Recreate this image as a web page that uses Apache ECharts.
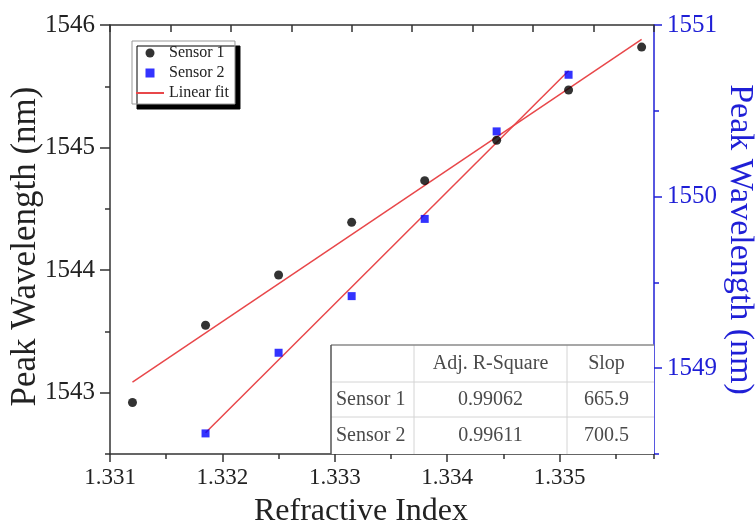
<!DOCTYPE html>
<html><head><meta charset="utf-8">
<script src="https://cdn.jsdelivr.net/npm/echarts@6/dist/echarts.min.js"></script>
<style>html,body{margin:0;padding:0;background:#fff}#c{width:756px;height:528px}</style>
</head><body><div id="c"></div>
<script>
// ---- data ----
const sensor1X = [1.3312, 1.33185, 1.3325, 1.33315, 1.3338, 1.33444, 1.33508, 1.33573];
const sensor1Y = [1542.92, 1543.55, 1543.96, 1544.39, 1544.73, 1545.06, 1545.47, 1545.82];
const sensor2X = [1.33185, 1.3325, 1.33315, 1.3338, 1.33444, 1.33508];
const sensor2Y = [1548.62, 1549.09, 1549.42, 1549.87, 1550.38, 1550.71];
const xTickValues = [1.331, 1.332, 1.333, 1.334, 1.335];
const leftTickValues = [1543, 1544, 1545, 1546];
const rightTickValues = [1549, 1550, 1551];
const tableHeader = ['', 'Adj. R-Square', 'Slop'];
const tableRows = [['Sensor 1', '0.99062', '665.9'], ['Sensor 2', '0.99611', '700.5']];

// ---- least-squares fit lines derived from the data ----
function linFit(xs, ys) {
  const n = xs.length;
  let mx = 0, my = 0;
  for (let i = 0; i < n; i++) { mx += xs[i]; my += ys[i]; }
  mx /= n; my /= n;
  let sxy = 0, sxx = 0;
  for (let i = 0; i < n; i++) { sxy += (xs[i] - mx) * (ys[i] - my); sxx += (xs[i] - mx) ** 2; }
  const b = sxy / sxx, a = my - b * mx;
  const x0 = Math.min(...xs), x1 = Math.max(...xs);
  return [[x0, a + b * x0], [x1, a + b * x1]];
}
const fit1 = linFit(sensor1X, sensor1Y);
const fit2 = linFit(sensor2X, sensor2Y);

const FONT = 'Liberation Serif';
const BLUE = '#1f1fd6';
const RED = '#e8474a';

const chart = echarts.init(document.getElementById('c'), null, {renderer: 'canvas'});

// table graphics
const tX = [331, 414, 567, 654];
const tY = [345, 382, 417, 454];
const tableEls = [];
tableEls.push({type: 'rect', shape: {x: tX[0], y: tY[0], width: tX[3] - tX[0], height: tY[3] - tY[0]}, style: {fill: '#fff'}, z: 10});
for (let i = 1; i < 3; i++) {
  tableEls.push({type: 'line', shape: {x1: tX[0], y1: tY[i], x2: tX[3], y2: tY[i]}, style: {stroke: '#d4d4d4', lineWidth: 1}, z: 11});
  tableEls.push({type: 'line', shape: {x1: tX[i], y1: tY[0], x2: tX[i], y2: tY[3]}, style: {stroke: '#d4d4d4', lineWidth: 1}, z: 11});
}
tableEls.push({type: 'line', shape: {x1: tX[0], y1: tY[0], x2: tX[3], y2: tY[0]}, style: {stroke: '#8a8a8a', lineWidth: 1.5}, z: 11});
tableEls.push({type: 'line', shape: {x1: tX[0], y1: tY[0], x2: tX[0], y2: tY[3]}, style: {stroke: '#555', lineWidth: 1.5}, z: 11});
const rowsAll = [tableHeader].concat(tableRows);
const colCx = [null, (tX[1] + tX[2]) / 2, (tX[2] + tX[3]) / 2 - 4];
rowsAll.forEach((row, r) => {
  const cy = (tY[r] + tY[r + 1]) / 2;
  row.forEach((txt, c) => {
    if (!txt) return;
    tableEls.push({
      type: 'text', z: 12,
      style: {
        text: txt, x: c === 0 ? tX[0] + 5 : colCx[c], y: cy,
        align: c === 0 ? 'left' : 'center', verticalAlign: 'middle',
        font: '20px "' + FONT + '"', fill: '#4a4a4a'
      }
    });
  });
});

const SQUARE = 'path://M0,0 L10,0 L10,10 L0,10 Z';

const option = {
  animation: false,
  backgroundColor: '#fff',
  grid: {left: 110, right: 102, top: 25, bottom: 74, outerBoundsMode: 'none', containLabel: false},
  legend: {
    orient: 'vertical', left: 132, top: 41,
    padding: [4, 6, 3, 3], itemGap: 4, itemWidth: 28, itemHeight: 9,
    symbolKeepAspect: true,
    backgroundColor: '#fff', borderColor: '#999', borderWidth: 1,
    shadowColor: '#000', shadowBlur: 0, shadowOffsetX: 5, shadowOffsetY: 5,
    textStyle: {fontFamily: FONT, fontSize: 16, color: '#222'},
    data: [
      {name: 'Sensor 1', icon: 'circle'},
      {name: 'Sensor 2', icon: SQUARE},
      {name: 'Linear fit', itemStyle: {opacity: 0}}
    ]
  },
  xAxis: [
    {
      type: 'value', position: 'bottom', min: 1.331, max: 1.33584,
      name: 'Refractive Index', nameLocation: 'middle', nameGap: 42, nameMoveOverlap: false,
      nameTextStyle: {fontFamily: FONT, fontSize: 32, color: '#222', padding: [0, 42, 0, 0]},
      axisLine: {show: true, lineStyle: {color: '#333', width: 1.5}},
      axisTick: {show: true, inside: false, length: 8, customValues: xTickValues, lineStyle: {color: '#333', width: 1.5}},
      axisLabel: {show: true, customValues: xTickValues, margin: 12, fontFamily: FONT, fontSize: 23, color: '#222',
        formatter: v => v.toFixed(3)},
      splitLine: {show: false}
    },
    {
      type: 'value', position: 'bottom', min: 1.331, max: 1.33584, interval: 0.0005,
      axisLine: {show: false}, axisLabel: {show: false}, splitLine: {show: false},
      axisTick: {show: true, inside: false, length: 5, lineStyle: {color: '#333', width: 1.5}}
    },
    {
      type: 'value', position: 'top', min: 1.3315, max: 1.336, interval: 0.0005,
      axisLine: {show: true, lineStyle: {color: '#333', width: 1.5}},
      axisLabel: {show: false}, splitLine: {show: false},
      axisTick: {show: true, inside: true, length: 7, lineStyle: {color: '#333', width: 1.5}}
    }
  ],
  yAxis: [
    {
      type: 'value', position: 'left', min: 1542.5, max: 1546,
      name: 'Peak Wavelength (nm)', nameLocation: 'middle', nameGap: 67, nameMoveOverlap: false,
      nameTextStyle: {fontFamily: FONT, fontSize: 35, color: '#222', padding: [0, 14, 0, 0]},
      axisLine: {show: true, lineStyle: {color: '#333', width: 1.5}},
      axisTick: {show: true, inside: false, length: 10, customValues: leftTickValues, lineStyle: {color: '#333', width: 1.5}},
      axisLabel: {show: true, customValues: leftTickValues, margin: 15, fontFamily: FONT, fontSize: 25, color: '#222',
        formatter: v => String(v)},
      splitLine: {show: false}
    },
    {
      type: 'value', position: 'left', min: 1542.5, max: 1546, interval: 0.5,
      axisLine: {show: false}, axisLabel: {show: false}, splitLine: {show: false},
      axisTick: {show: true, inside: false, length: 5, lineStyle: {color: '#333', width: 1.5}}
    },
    {
      type: 'value', position: 'right', min: 1548.5, max: 1551,
      name: 'Peak Wavelength (nm)', nameLocation: 'middle', nameGap: 69, nameRotate: -90, nameMoveOverlap: false,
      nameTextStyle: {fontFamily: FONT, fontSize: 34, color: BLUE},
      axisLine: {show: true, lineStyle: {color: BLUE, width: 1.5}},
      axisTick: {show: true, inside: false, length: 8, customValues: rightTickValues, lineStyle: {color: BLUE, width: 1.5}},
      axisLabel: {show: true, customValues: rightTickValues, margin: 13, fontFamily: FONT, fontSize: 25, color: BLUE,
        formatter: v => String(v)},
      splitLine: {show: false}
    },
    {
      type: 'value', position: 'right', min: 1548.5, max: 1551, interval: 0.5,
      axisLine: {show: false}, axisLabel: {show: false}, splitLine: {show: false},
      axisTick: {show: true, inside: false, length: 5, lineStyle: {color: BLUE, width: 1.5}}
    }
  ],
  series: [
    {
      name: 'Sensor 1', type: 'scatter', xAxisIndex: 0, yAxisIndex: 0,
      symbol: 'circle', symbolSize: 9, itemStyle: {color: '#000'}, z: 5,
      data: sensor1X.map((x, i) => [x, sensor1Y[i]])
    },
    {
      name: 'Sensor 2', type: 'scatter', xAxisIndex: 0, yAxisIndex: 2,
      symbol: 'rect', symbolSize: 8, itemStyle: {color: '#0000ff'}, z: 5,
      data: sensor2X.map((x, i) => [x, sensor2Y[i]])
    },
    {
      name: 'Linear fit', type: 'line', xAxisIndex: 0, yAxisIndex: 0,
      symbol: 'none', lineStyle: {color: RED, width: 1.5}, itemStyle: {color: RED}, z: 4,
      data: fit1
    },
    {
      name: 'Linear fit', type: 'line', xAxisIndex: 0, yAxisIndex: 2,
      symbol: 'none', lineStyle: {color: RED, width: 1.5}, itemStyle: {color: RED}, z: 4,
      data: fit2
    }
  ],
  graphic: [{type: 'group', children: tableEls}]
};
chart.setOption(option);
</script>
</body></html>
